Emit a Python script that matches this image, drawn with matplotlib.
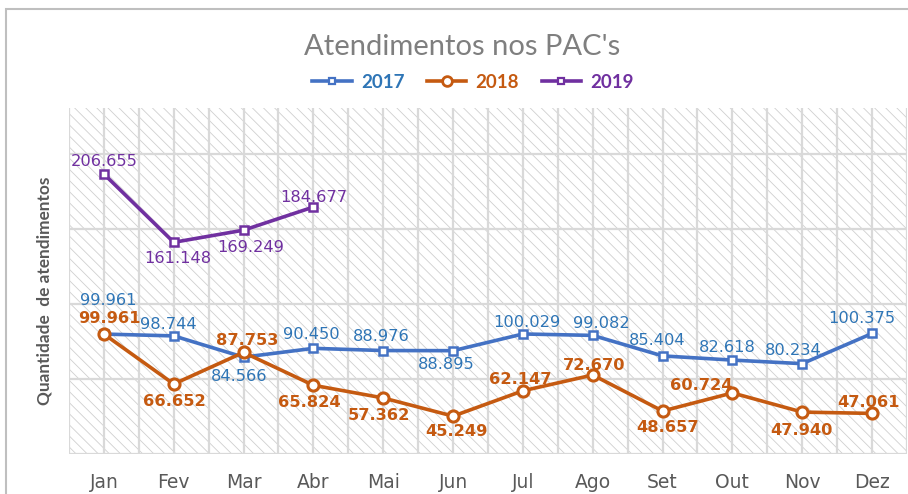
import matplotlib
matplotlib.use("Agg")
import matplotlib.pyplot as plt
import numpy as np
from matplotlib.lines import Line2D
from matplotlib.patches import Rectangle

months = ["Jan", "Fev", "Mar", "Abr", "Mai", "Jun", "Jul", "Ago", "Set", "Out", "Nov", "Dez"]
v2017 = [99961, 98744, 84566, 90450, 88976, 88895, 100029, 99082, 85404, 82618, 80234, 100375]
v2018 = [99961, 66652, 87753, 65824, 57362, 45249, 62147, 72670, 48657, 60724, 47940, 47061]
v2019 = [206655, 161148, 169249, 184677]
series_names = ["2017", "2018", "2019"]
title = "Atendimentos nos PAC's"
ylabel = "Quantidade  de atendimentos"

# data-label offsets in pixels (dx to the right, dy downward)
off2017 = [(4, -36), (-5, -13), (-4, 17), (-2, -16), (-2, -16), (-7, 12),
           (4, -13), (9, -14), (-5, -17), (-5, -15), (-9, -15), (-10, -17)]
off2018 = [(5, -18), (1, 15), (4, -14), (-4, 15), (-4, 16), (3, 13),
           (-3, -13), (1, -12), (5, 14), (-31, -9), (-1, 16), (-4, -13)]
off2019 = [(0, -15), (4, 14), (7, 15), (0, -12)]

c2017_line, c2017_text = "#4472C4", "#2E75B6"
c2018 = "#C55A11"
c2019 = "#7030A0"
grid_c = "#d9d9d9"
txt_grey = "#595959"

W, H = 908, 494
fig = plt.figure(figsize=(W / 100, H / 100), dpi=100)
plt.rcParams["hatch.linewidth"] = 0.6

# outer chart border (left and top visible)
fig.patches.append(Rectangle((6 / W, -0.2), 1.2, 1.2 - 9 / H,
                             transform=fig.transFigure, fill=False,
                             edgecolor="#bfbfbf", linewidth=1.5))

ax = fig.add_axes([69 / W, 40 / H, 838 / W, 346 / H])
ax.patch.set_facecolor("white")
ax.add_patch(Rectangle((0, 0), 1, 1, transform=ax.transAxes, facecolor="white",
                       edgecolor="#cfcfcf", hatch="\\" * 3, linewidth=0, zorder=0))

x = np.arange(len(months))
ax.set_xlim(-0.5, 11.5)
ax.set_ylim(20000, 250700)
ax.set_xticks(x)
ax.set_xticklabels(months, fontsize=13.5, color=txt_grey, family="DejaVu Sans")
ax.set_xticks(np.arange(-0.5, 12, 1.0), minor=True)
ax.set_yticks(np.arange(20000, 230000, 50000))
ax.set_yticklabels([])
ax.tick_params(axis="both", which="both", length=0)
ax.tick_params(axis="x", pad=14)
ax.set_axisbelow(True)
ax.grid(True, which="both", axis="x", color=grid_c, linewidth=1.6)
ax.grid(True, which="major", axis="y", color=grid_c, linewidth=1.6)
for s in ax.spines.values():
    s.set_visible(False)

ax.plot(x, v2017, color=c2017_line, lw=2.6, marker="s", ms=5.5, mfc="white",
        mec=c2017_line, mew=1.8, zorder=3)
ax.plot(x, v2018, color=c2018, lw=2.6, marker="o", ms=8, mfc="white",
        mec=c2018, mew=2.2, zorder=3)
x19 = np.arange(len(v2019))
ax.plot(x19, v2019, color=c2019, lw=2.6, marker="s", ms=6, mfc="white",
        mec=c2019, mew=1.8, zorder=4)


def fmt(v):
    return f"{v:,}".replace(",", ".")


def labels(xs, vals, offs, color, weight):
    for xi, v, (dx, dy) in zip(xs, vals, offs):
        ax.annotate(fmt(v), (xi, v), xytext=(dx, -dy - 2), textcoords="offset pixels",
                    ha="center", va="center", fontsize=11.7, color=color,
                    fontweight=weight, family="DejaVu Sans", zorder=5)


labels(x, v2017, off2017, c2017_text, "normal")
labels(x, v2018, off2018, c2018, "bold")
labels(x19, v2019, off2019, c2019, "normal")

fig.text(462 / W, 1 - 47 / H, title, ha="center", va="center", fontsize=21,
         color="#7f7f7f", family="Lato")
fig.text(45 / W, 1 - 291 / H, ylabel, ha="center", va="center", rotation=90,
         fontsize=12.4, fontweight="bold", color=txt_grey, family="Lato")

handles = [
    Line2D([], [], color=c2017_line, lw=2.6, marker="s", ms=5, mfc="white", mec=c2017_line, mew=1.6),
    Line2D([], [], color=c2018, lw=2.6, marker="o", ms=7, mfc="white", mec=c2018, mew=2),
    Line2D([], [], color=c2019, lw=2.6, marker="s", ms=5, mfc="white", mec=c2019, mew=1.6),
]
leg = fig.legend(handles, series_names, loc="center", bbox_to_anchor=(473 / W, 1 - 82 / H),
                 ncol=3, frameon=False, prop={"family": "Lato", "weight": "bold", "size": 13.5},
                 handlelength=2.1, handletextpad=0.5, columnspacing=1.2)
for t, c in zip(leg.get_texts(), [c2017_text, c2018, c2019]):
    t.set_color(c)

fig.savefig("out.png", dpi=100)
